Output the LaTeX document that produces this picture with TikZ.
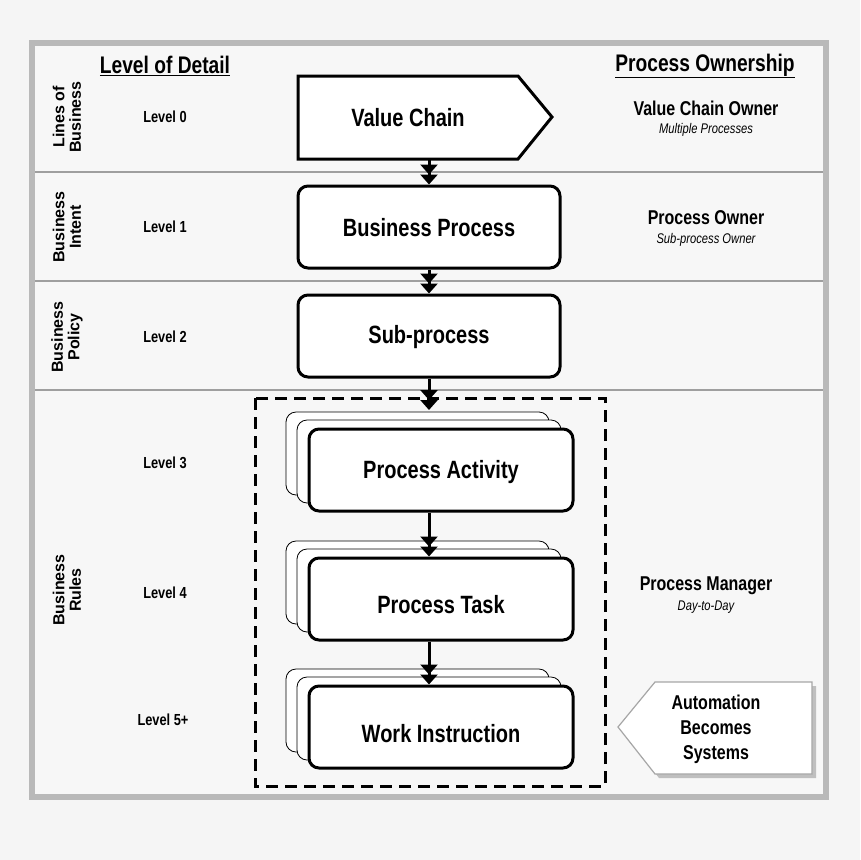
\documentclass[tikz,border=0pt]{standalone}
\usepackage{fontspec}
\setmainfont{Liberation Sans}[FakeStretch=0.8]
\newfontfamily\wide{Liberation Sans}
\usetikzlibrary{arrows.meta,shapes.geometric}
\begin{document}
\begin{tikzpicture}[x=1pt,y=-1pt,
  box/.style={draw,line width=3pt,rounded corners=10pt,fill=white},
  card/.style={draw,line width=0.8pt,rounded corners=10pt,fill=white},
  main/.style={font=\bfseries\fontsize{25}{28}\selectfont},
  lvl/.style={font=\bfseries\fontsize{16}{18}\selectfont},
  side/.style={font=\wide\bfseries\fontsize{16}{16.5}\selectfont,rotate=90,align=center},
  own/.style={font=\bfseries\fontsize{20}{22}\selectfont,align=center},
  sub/.style={font=\itshape\fontsize{14}{16}\selectfont},
  hdr/.style={font=\bfseries\fontsize{24}{26}\selectfont},
  sep/.style={draw=gray!75,line width=2.5pt},
  arr/.style={line width=3pt,-{Triangle[length=10pt,width=17pt]Triangle[length=10pt,width=17pt]}}]
\useasboundingbox (0,0) rectangle (860,860);
\fill[gray!8] (0,0) rectangle (860,860);
\draw[draw=gray!55,fill=gray!6,line width=6pt] (32,43) rectangle (826,797);
\draw[sep] (35,172) -- (823,172);
\draw[sep] (35,281) -- (823,281);
\draw[sep] (35,390) -- (823,390);
% headers
\node[hdr] (hl) at (165,66) {\underline{Level of Detail}};
\node[hdr] (hr) at (705,66) {\underline{Process Ownership}};
% side labels
\node[side] (s0) at (67,117) {Lines of\\Business};
\node[side] (s1) at (67,227) {Business\\Intent};
\node[side] (s2) at (67,337) {Business\\Policy};
\node[side] (s3) at (67,590) {Business\\Rules};
% levels
\node[lvl] (l0) at (165,117) {Level 0};
\node[lvl] (l1) at (165,227) {Level 1};
\node[lvl] (l2) at (165,337) {Level 2};
\node[lvl] (l3) at (165,463) {Level 3};
\node[lvl] (l4) at (165,593) {Level 4};
\node[lvl] (l5) at (163,720) {Level 5+};
% value chain
\draw[line width=3pt,fill=white] (298,76) -- (518,76) -- (552,117) -- (518,159) -- (298,159) -- cycle;
\node[main] (vc) at (408,118) {Value Chain};
\coordinate (vcb) at (429,159);
\node[box,minimum width=262pt,minimum height=82pt] (bp) at (429,227) {};
\node[main] at ([yshift=-1pt]bp.center) {Business Process};
\node[box,minimum width=262pt,minimum height=82pt] (sp) at (429,336) {};
\node[main] at ([yshift=-1pt]sp.center) {Sub-process};
% dashed box
\draw[line width=3pt,dash pattern=on 12pt off 7pt] (255,398) rectangle (605,786);
\coordinate (dtop) at (429,410);
% cards
\foreach \yy in {0,129,257}{
  \draw[card] (286,412+\yy) rectangle (549,495+\yy);
  \draw[card] (297,420+\yy) rectangle (561,503+\yy);
}
\node[box,minimum width=264pt,minimum height=82pt] (pa) at (441,470) {};
\node[main] at ([yshift=-2pt]pa.center) {Process Activity};
\node[box,minimum width=264pt,minimum height=82pt] (pt) at (441,599) {};
\node[main] at ([yshift=-6pt]pt.center) {Process Task};
\node[box,minimum width=264pt,minimum height=82pt] (wi) at (441,727) {};
\node[main] at ([yshift=-7pt]wi.center) {Work Instruction};
\draw[arr] (vcb) -- (bp.north -| vcb);
\draw[arr] (bp.south) -- (sp.north);
\draw[arr] (sp.south) -- (dtop);
\draw[arr] (pa.south -| bp.south) -- (pt.north -| bp.south);
\draw[arr] (pt.south -| bp.south) -- (wi.north -| bp.south);
% ownership
\node[own] (o0) at (706,108) {Value Chain Owner};
\node[sub] (o0s) at (706,130) {Multiple Processes};
\node[own] (o1) at (706,218) {Process Owner};
\node[sub] (o1s) at (706,240) {Sub-process Owner};
\node[own] (o3) at (706,586) {Process Manager};
\node[sub] (o3s) at (706,607) {Day-to-Day};
% automation
\fill[gray!50] (622,731) -- (659,686) -- (816,686) -- (816,778) -- (659,778) -- cycle;
\draw[draw=gray!70,line width=1.2pt,fill=white] (618,727) -- (655,682) -- (812,682) -- (812,774) -- (655,774) -- cycle;
\node[own,font=\bfseries\fontsize{20}{25}\selectfont] (au) at (716,729) {Automation\\Becomes\\Systems};
\end{tikzpicture}
\end{document}
